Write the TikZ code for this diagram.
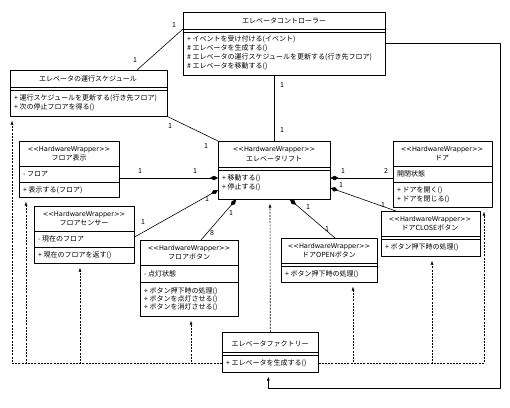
\documentclass[tikz,border=0pt]{standalone}
\usepackage{fontspec}
\setmainfont{Noto Sans CJK JP}
\newfontfamily\latinfont{DejaVu Sans}
\usetikzlibrary{arrows.meta}
\newcommand\hwstereo{{\latinfont\fontsize{6.6}{8}\selectfont <\kern0pt<HardwareWrapper>\kern0pt>}}

\begin{document}
\begin{tikzpicture}[x=1pt,y=-1pt,font=\fontsize{7}{8}\selectfont,line join=round,
  cls/.style={draw,line width=.6pt,fill=white,anchor=north west,inner sep=0pt},
  ttl/.style={inner sep=0pt,text height=5.5pt,text depth=1.5pt},
  mem/.style={ttl,anchor=west},
  mult/.style={ttl},
  comp/.style={line width=.6pt,{Diamond[length=8pt,width=4.5pt]}-},
  nav/.style={line width=.6pt,-{Latex[length=4pt,width=3pt]}},
  dep/.style={line width=.6pt,dash pattern=on 2pt off 1.2pt,-{Latex[length=4pt,width=3pt]}}]
\fill[white] (0,0) rectangle (510,407);
\useasboundingbox (0,0) rectangle (510,407);
% classes
\node[cls,minimum width=202pt,minimum height=63pt] (ctrl) at (183,12) {};
\node[cls,minimum width=157pt,minimum height=46pt] (sched) at (10,70) {};
\node[cls,minimum width=100pt,minimum height=56pt] (disp) at (19,141) {};
\node[cls,minimum width=100pt,minimum height=57pt] (sens) at (34,206) {};
\node[cls,minimum width=98pt,minimum height=76pt] (fbtn) at (140,240) {};
\node[cls,minimum width=112pt,minimum height=58pt] (lift) at (218,141) {};
\node[cls,minimum width=99pt,minimum height=66pt] (door) at (393,141) {};
\node[cls,minimum width=96pt,minimum height=44pt] (obtn) at (281,238) {};
\node[cls,minimum width=99pt,minimum height=45pt] (cbtn) at (381,211) {};
\node[cls,minimum width=96pt,minimum height=40pt] (fact) at (222,332) {};
\foreach \b/\d in {ctrl/17,ctrl/20,sched/17,sched/20,disp/25,disp/41,sens/25,sens/41,
    fbtn/25,fbtn/42,lift/26,lift/29,door/25,door/41,obtn/25,obtn/28,cbtn/25,cbtn/28,fact/20,fact/23}
  \draw[line width=.6pt] ([shift={(0,\d)}]\b.north west) -- ([shift={(0,\d)}]\b.north east);
% texts
\node[ttl] (ctrl-t) at (284,21) {エレベータコントローラー};
\node[mem] (ctrl-1) at (187,39) {+ イベントを受け付ける(イベント)};
\node[mem] (ctrl-2) at (187,48) {\# エレベータを生成する()};
\node[mem] (ctrl-3) at (187,57) {\# エレベータの運行スケジュールを更新する(行き先フロア)};
\node[mem] (ctrl-4) at (187,66) {\# エレベータを移動する()};
\node[ttl] (sched-t) at (88,79) {エレベータの運行スケジュール};
\node[mem] (sched-1) at (14,98) {+ 運行スケジュールを更新する(行き先フロア)};
\node[mem] (sched-2) at (14,107) {+ 次の停止フロアを得る()};
\node[ttl] (disp-s) at (69,149) {\hwstereo};
\node[ttl] (disp-t) at (69,158) {フロア表示};
\node[mem] (disp-a) at (23,174) {- フロア};
\node[mem] (disp-1) at (23,190) {+ 表示する(フロア)};
\node[ttl] (sens-s) at (84,214) {\hwstereo};
\node[ttl] (sens-t) at (84,223) {フロアセンサー};
\node[mem] (sens-a) at (38,239) {- 現在のフロア};
\node[mem] (sens-1) at (38,255) {+ 現在のフロアを返す()};
\node[ttl] (fbtn-s) at (189,248) {\hwstereo};
\node[ttl] (fbtn-t) at (189,257) {フロアボタン};
\node[mem] (fbtn-a) at (144,274) {- 点灯状態};
\node[mem] (fbtn-1) at (144,291) {+ ボタン押下時の処理()};
\node[mem] (fbtn-2) at (144,299) {+ ボタンを点灯させる()};
\node[mem] (fbtn-3) at (144,307) {+ ボタンを消灯させる()};
\node[ttl] (lift-s) at (274,149) {\hwstereo};
\node[ttl] (lift-t) at (274,159) {エレベータリフト};
\node[mem] (lift-1) at (222,178) {+ 移動する()};
\node[mem] (lift-2) at (222,187) {+ 停止する()};
\node[ttl] (door-s) at (442,149) {\hwstereo};
\node[ttl] (door-t) at (442,158) {ドア};
\node[mem] (door-a) at (397,174) {開閉状態};
\node[mem] (door-1) at (397,190) {+ ドアを開く()};
\node[mem] (door-2) at (397,199) {+ ドアを閉じる()};
\node[ttl] (obtn-s) at (329,246) {\hwstereo};
\node[ttl] (obtn-t) at (329,255) {ドアOPENボタン};
\node[mem] (obtn-1) at (285,274) {+ ボタン押下時の処理()};
\node[ttl] (cbtn-s) at (430,219) {\hwstereo};
\node[ttl] (cbtn-t) at (430,228) {ドアCLOSEボタン};
\node[mem] (cbtn-1) at (385,247) {+ ボタン押下時の処理()};
\node[ttl] (fact-t) at (270,344) {エレベータファクトリー};
\node[mem] (fact-1) at (226,363) {+ エレベータを生成する()};
% associations
\draw[line width=.6pt] ([shift={(0,17)}]ctrl.north west) -- ([shift={(127,0)}]sched.north west);
\draw[line width=.6pt] (sched.south east) -- (lift.north west);
\draw[line width=.6pt] (lift.north |- ctrl.south) -- (lift.north);
\coordinate (rimNE) at (500,43);
\coordinate (rimSE) at (500,388);
\draw[nav] ([shift={(0,31)}]ctrl.north east) -- (rimNE) -- (rimSE) -| ([shift={(-2,4)}]fact.south);
% compositions
\draw[comp] ([shift={(0,37)}]lift.north west) -- ([shift={(0,37)}]disp.north east);
\draw[comp] ([shift={(0,49)}]lift.north west) -- ([shift={(0,31)}]sens.north east);
\draw[comp] ([shift={(18,0)}]lift.south west) -- ([shift={(61,0)}]fbtn.north west);
\draw[comp] ([shift={(72,0)}]lift.south west) -- ([shift={(54,0)}]obtn.north west);
\draw[comp] ([shift={(0,37)}]lift.north east) -- ([shift={(0,37)}]door.north west);
\draw[comp] ([shift={(0,47)}]lift.north east) -- ([shift={(15,0)}]cbtn.north west);
% dependencies
\draw[dep] ([shift={(0,31)}]fact.north west) -| ([shift={(2,4)}]sched.south west);
\draw[dep] ([shift={(0,31)}]fact.north west) -| ([shift={(7,4)}]disp.south west);
\draw[dep] ([shift={(0,31)}]fact.north west) -| ([shift={(46,4)}]sens.south west);
\draw[dep] ([shift={(0,31)}]fact.north west) -| ([shift={(51,4)}]fbtn.south west);
\draw[dep] (fact.north) -- ([shift={(52,4)}]lift.south west);
\draw[dep] ([shift={(0,31)}]fact.north east) -| ([shift={(72,4)}]obtn.south west);
\draw[dep] ([shift={(0,31)}]fact.north east) -| ([shift={(51,4)}]cbtn.south west);
\draw[dep] ([shift={(0,31)}]fact.north east) -| ([shift={(91,4)}]door.south west);
% multiplicities
\node[mult] (m-cs1) at (174,25) {1};
\node[mult] (m-cs2) at (135,60) {1};
\node[mult] (m-sl1) at (170,126) {1};
\node[mult] (m-sl2) at (206,146) {1};
\node[mult] (m-cl1) at (282,85) {1};
\node[mult] (m-cl2) at (282,130) {1};
\node[mult] (m-dl1) at (140,171) {1};
\node[mult] (m-dl2) at (195,171) {1};
\node[mult] (m-sn1) at (143,222) {1};
\node[mult] (m-sn2) at (207,199) {1};
\node[mult] (m-fb1) at (212,233) {8};
\node[mult] (m-fb2) at (231,213) {1};
\node[mult] (m-ob1) at (308,207) {1};
\node[mult] (m-ob2) at (327,229) {1};
\node[mult] (m-dr1) at (343,171) {1};
\node[mult] (m-dr2) at (386,171) {2};
\node[mult] (m-cb1) at (341,185) {1};
\node[mult] (m-cb2) at (383,205) {1};
\end{tikzpicture}
\end{document}
